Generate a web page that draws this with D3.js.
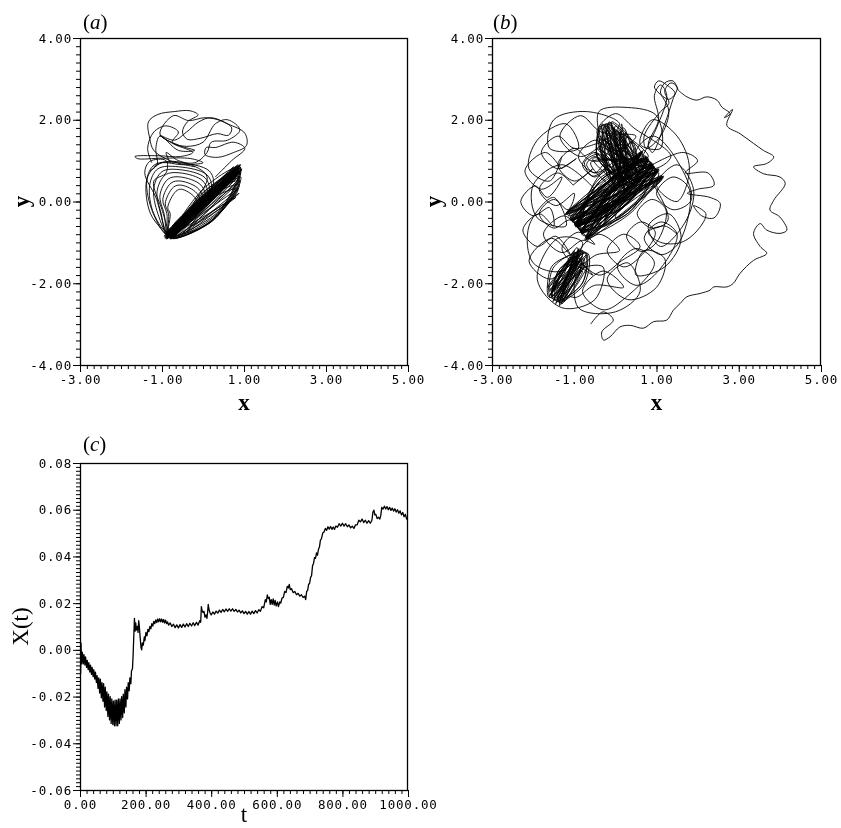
<!DOCTYPE html>
<html><head><meta charset="utf-8">
<script src="https://cdn.jsdelivr.net/npm/d3@7"></script>
<style>body{margin:0;background:#fff}svg{display:block;will-change:transform}</style>
</head><body>
<svg id="chart" width="841" height="828"></svg>
<script>
// ---------- tick labels ----------
const phaseXTicks = [-3, -1, 1, 3, 5];
const phaseXTickLabels = ["-3.00", "-1.00", "1.00", "3.00", "5.00"];
const phaseYTicks = [-4, -2, 0, 2, 4];
const phaseYTickLabels = ["-4.00", "-2.00", "0.00", "2.00", "4.00"];
const timeTicks = [0, 200, 400, 600, 800, 1000];
const timeTickLabels = ["0.00", "200.00", "400.00", "600.00", "800.00", "1000.00"];
const dispTicks = [-0.06, -0.04, -0.02, 0, 0.02, 0.04, 0.06, 0.08];
const dispTickLabels = ["-0.06", "-0.04", "-0.02", "0.00", "0.02", "0.04", "0.06", "0.08"];

// ---------- panel (a): phase trajectory (x, y) ----------
const aTop1 = [[-0.2,0.85],[-0.8,1.0],[-1.2,1.25],[-1.3,1.55],[-1.33,1.95],[-1.1,2.13],[-0.7,2.2],[-0.32,2.22],[-0.12,2.12],[-0.38,1.95],[-0.5,1.7],[-0.38,1.52],[-0.05,1.55],[0.35,1.66],[0.62,1.62],[0.7,1.8],[0.45,1.97],[0.05,2.05],[-0.35,1.98],[-0.72,2.1],[-1.05,1.65],[-0.6,1.38],[-0.2,1.25],[-0.6,1.25],[-1.05,1.6],[-1.15,1.3],[-1.12,0.9],[-1.3,0.75]];
const aTop2 = [[0.3,0.6],[0.7,1.0],[1.02,1.3],[0.75,1.45],[0.3,1.32],[0.08,1.32],[0.05,1.15],[0.35,1.08],[0.75,1.2],[1.06,1.37],[1.02,1.67],[0.6,1.9],[0.2,2.05],[-0.1,1.95],[-0.4,1.7],[-0.7,1.5],[-1.05,1.62],[-0.7,1.4],[-0.25,1.2],[-0.55,1.1],[-1.1,1.12],[-1.66,1.1],[-1.6,1.05],[-1.0,1.06],[-0.3,1.05],[0.0,0.95],[-0.5,0.9],[-1.0,0.95],[-1.2,0.85]];
const aTop3 = [[-1.25,0.95],[-1.35,1.3],[-1.2,1.7],[-0.9,1.85],[-0.6,1.7],[-0.75,1.45],[-0.4,1.35],[0.0,1.45],[0.3,1.9],[0.6,2.0],[0.9,1.75],[0.6,1.5],[0.2,1.45],[0.1,1.2],[-0.2,0.95],[-0.6,1.0],[-0.9,1.2],[-0.8,0.95]];
const aLeaves = [[-0.85,-0.85],[-1.28,-0.3],[-1.38,0.5],[-1.18,0.9],[-0.62,0.95],[0.15,0.75],[0.25,0.4],[-0.3,-0.3],[-0.8,-0.8],
 [-1.2,-0.3],[-1.3,0.4],[-1.1,0.8],[-0.6,0.85],[0.1,0.65],[0.2,0.3],[-0.35,-0.35],[-0.82,-0.82],
 [-1.1,-0.3],[-1.2,0.33],[-1.0,0.73],[-0.58,0.78],[0.05,0.58],[0.15,0.23],[-0.4,-0.4],[-0.86,-0.84],
 [-1.02,-0.3],[-1.12,0.25],[-0.92,0.65],[-0.56,0.7],[0.0,0.5],[0.1,0.15],[-0.45,-0.45],[-0.83,-0.86],
 [-0.95,-0.3],[-1.05,0.15],[-0.85,0.55],[-0.55,0.6],[-0.05,0.4],[0.05,0.05],[-0.5,-0.5],[-0.85,-0.83],
 [-0.88,-0.3],[-0.98,0.05],[-0.78,0.45],[-0.54,0.5],[-0.1,0.3],[0.0,-0.05],[-0.55,-0.55],[-0.84,-0.85],
 [-0.84,-0.3],[-0.92,-0.05],[-0.72,0.35],[-0.53,0.4],[-0.15,0.2],[-0.05,-0.15],[-0.6,-0.6],[-0.86,-0.86],
 [-0.8,-0.3],[-0.86,-0.15],[-0.66,0.25],[-0.53,0.3],[-0.2,0.1],[-0.1,-0.25],[-0.65,-0.65],[-0.85,-0.84],
 [-1.25,-0.2],[-1.35,0.6],[-1.0,0.95],[-0.3,0.9],[0.1,0.6],[-0.2,0.0],[-0.8,-0.85],
 [-1.15,0.1],[-1.42,0.7],[-1.3,0.98],[-0.9,1.0],[-0.9,0.7],[-1.2,0.5],[-1.0,-0.2],[-0.82,-0.8]];
const aBand = [[-0.88,-0.9],[0.9,0.85],[-0.8,-0.82],[0.85,0.72],[-0.9,-0.8],[0.92,0.9],[-0.7,-0.85],[0.8,0.6],[-0.85,-0.7],[0.88,0.8],[-0.6,-0.85],[0.9,0.5],[-0.82,-0.88],[0.7,0.75],[-0.75,-0.6],[0.92,0.7],[-0.5,-0.8],[0.85,0.3],[-0.88,-0.85],[0.6,0.7],[-0.7,-0.55],[0.9,0.6],[-0.4,-0.75],[0.88,0.2],[-0.8,-0.9],[0.75,0.85],[-0.6,-0.5],[0.92,0.78],[-0.3,-0.6],[0.8,0.1],[-0.85,-0.82],[0.9,0.88],[-0.78,-0.75],[0.86,0.66],[-0.9,-0.92],[0.82,0.76]];
const aBand2 = [[-0.9,-0.9],[0.88,0.82],[-0.8,-0.92],[0.93,0.76],[-0.92,-0.8],[0.85,0.9],[-0.85,-0.85],[0.95,0.8],[-0.75,-0.9],[0.88,0.7],[-0.95,-0.85],[0.8,0.85],[-0.88,-0.86],[0.0,0.15],[-0.82,-0.9],[0.9,0.78],[-0.9,-0.82],[0.1,-0.05],[-0.86,-0.88],[0.92,0.84],[-0.78,-0.86],[-0.1,0.05],[-0.93,-0.88],[0.87,0.74],[-0.84,-0.8],[0.9,0.9],[-0.8,-0.88],[0.3,0.3],[-0.9,-0.86],[0.94,0.78],[-0.76,-0.92],[0.84,0.8],[-0.88,-0.78],[0.5,0.35],[-0.92,-0.9],[0.89,0.86],[-0.83,-0.84],[0.91,0.72],[-0.87,-0.91],[0.86,0.88]];
const aHatch = [[-0.8,-0.88],[0.2,-0.5],[0.9,0.5],[0.1,0.15],[-0.75,-0.9],[0.25,-0.45],[0.92,0.6],[0.05,0.2],[-0.7,-0.88],[0.3,-0.38],[0.9,0.7],[0.0,0.22],[-0.72,-0.86],[0.15,-0.52],[0.88,0.4],[0.1,0.1],[-0.78,-0.9],[0.35,-0.3],[0.92,0.8],[0.05,0.25],[-0.68,-0.85],[0.1,-0.55],[0.85,0.3],[0.15,0.05],[-0.8,-0.88],[0.4,-0.22],[0.9,0.85],[0.0,0.3],[-0.74,-0.88],[0.22,-0.48],[0.88,0.55],[0.08,0.18],[-0.76,-0.9]];

// ---------- panel (b): phase trajectory (x, y) ----------
const bCore = [[-0.95,-0.6],[1.15,0.59],[-0.83,-0.76],[0.65,1.21],[-1.08,-0.45],[1.03,0.75],[-0.7,-0.91],[0.78,1.06],[-1.2,-0.29],[0.9,0.9],[-0.86,-0.72],[1.12,0.64],[-0.98,-0.56],[0.8,1.0],[-0.66,-0.88],[0.6,1.15],[-1.05,-0.5],[0.3,0.1],[-1.15,-0.35],[1.05,0.8],[-0.92,-0.64],[0.95,0.85],[-0.74,-0.94],[0.2,0.7],[-0.8,-0.8],[0.74,1.1],[-1.1,-0.4],[1.1,0.55],[-0.6,0.0],[0.68,1.25],[-0.97,-0.62],[1.0,0.72],[-1.18,-0.25],[0.5,0.2],[-0.72,-0.86],[0.88,0.95],[-1.04,-0.47],[0.62,1.18],[-0.85,-0.74],[0.0,0.5],[-0.93,-0.58],[1.17,0.62],[-0.3,-0.6],[0.76,1.04],[-1.22,-0.32],[1.06,0.78],[-0.68,-0.9],[0.92,0.92],[-1.06,-0.43],[0.35,0.05],[-0.82,-0.78],[0.66,1.2],[-0.96,-0.6],[1.13,0.57],[0.0,-0.4],[0.79,1.08],[-1.17,-0.3],[0.9,0.88],[-0.84,-0.75],[1.02,0.77],[-0.71,-0.93],[0.25,0.75],[-1.09,-0.46],[1.14,0.6],[-0.94,-0.61],[0.64,1.22],[-1.19,-0.28],[-0.2,0.3],[-0.81,-0.77],[0.91,0.91],[-0.69,-0.89],[0.77,1.05],[-0.55,0.05],[1.04,0.74],[-1.07,-0.44],[0.55,0.25],[-0.95,-0.59],[0.8,1.03],[-1.21,-0.31],[1.16,0.6],[-0.7,-0.92],[0.63,1.19],[-0.83,-0.75],[1.03,0.76],[-0.96,-0.6],[0.9,0.9]];
const bCoreEll = [[-0.95,-0.6],[0.19,-0.12],[0.9,0.9],[-0.24,0.42],
 [-1.01,-0.52],[0.037,0.072],[0.84,0.98],[-0.335,0.54],
 [-0.89,-0.68],[0.285,-0.24],[0.96,0.82],[-0.087,0.228],
 [-0.98,-0.56],[0.19,-0.12],[0.87,0.94],[-0.366,0.579],
 [-0.92,-0.64],[0.161,-0.084],[0.93,0.86],[-0.087,0.228],
 [-1.04,-0.48],[-0.087,0.228],[0.81,1.02],[-0.335,0.54],
 [-0.86,-0.72],[0.316,-0.279],[0.99,0.78],[0.006,0.111],
 [-0.95,-0.6],[0.068,0.033],[0.9,0.9],[-0.118,0.267],
 [-0.99,-0.54],[0.099,-0.006],[0.86,0.96],[-0.335,0.54],
 [-0.9,-0.66],[0.316,-0.279],[0.95,0.84],[-0.18,0.345],
 [-1.1,-0.42],[0.0,0.0],[0.75,1.1],[-0.4,0.62],
 [-0.8,-0.82],[0.35,-0.3],[1.05,0.7],[0.05,0.2],
 [-1.0,-0.58],[0.12,-0.05],[0.92,0.88],[-0.28,0.48],[-0.95,-0.6]];
const bBridge = [[0.5,0.5],[-0.45,1.3],[0.6,0.7],[-0.3,1.5],[0.3,0.3],[-0.55,1.05],[0.7,0.9],[-0.1,1.6],[0.2,0.2],[-0.6,0.95],[0.8,1.1],[0.0,1.7],[0.4,0.35],[-0.5,1.2],[0.65,0.6],[-0.2,1.45],[0.55,0.45],[-0.4,1.35],[0.75,0.8],[-0.25,1.55]];
const bUpper = [[-0.3,1.8],[0.4,0.5],[-0.1,1.9],[0.2,0.3],[-0.4,1.6],[0.6,0.7],[0.0,1.85],[0.1,0.4],[-0.2,1.75],[0.5,0.6],[0.2,1.8],[-0.1,0.5],[-0.35,1.4],[0.45,0.8],[0.1,1.7],[0.3,0.2],[-0.25,1.85],[0.55,0.9],[0.3,1.6],[0.0,0.6],[-0.4,1.5],[0.7,1.0],[0.4,1.45],[-0.2,0.7],[-0.15,1.95],[0.35,0.45],[-0.05,1.8],[0.65,0.85],[-0.3,1.7],[0.25,0.55],[0.15,1.9],[0.05,0.3],[-0.38,1.55],[0.5,0.75],[0.05,1.75],[0.6,0.5],[-0.2,1.65],[0.15,0.65],[0.25,1.7],[-0.05,0.45],[-0.32,1.9],[0.45,0.4],
 [-0.2,0.9],[-0.5,1.2],[-0.8,0.9],[-0.5,0.6],[-0.2,0.9],[-0.45,1.15],[-0.75,0.95],[-0.55,0.62],[-0.25,0.85],[-0.5,1.1],[-0.7,0.9],[-0.5,0.7],[-0.3,0.9]];
const bUpperEll = [[0.22,0.5],[0.285,1.293],[-0.23,1.9],[-0.285,1.107],
 [0.315,0.531],[0.4275,1.34],[-0.135,1.931],[-0.0475,1.184],
 [0.125,0.469],[0.0475,1.216],[-0.325,1.869],[-0.4275,1.06],
 [0.27,0.515],[0.2375,1.278],[-0.18,1.915],[-0.0475,1.184],
 [0.17,0.485],[0.2375,1.278],[-0.28,1.885],[-0.4275,1.06],
 [0.36,0.55],[0.475,1.355],[-0.09,1.95],[0.095,1.231],
 [0.08,0.45],[-0.14,1.155],[-0.37,1.85],[-0.43,1.06],
 [0.22,0.5],[0.095,1.231],[-0.23,1.9],[-0.095,1.169],[0.2,0.55]];
const bUpRight = [[0.6,1.0],[1.0,1.8],[1.25,2.6],[1.1,2.85],[0.95,2.6],[1.05,2.0],[0.8,1.4],[0.9,1.2],[1.2,1.9],[1.4,2.5],[1.5,2.8],[1.35,2.9],[1.2,2.7],[1.3,2.4],[1.1,2.2],[0.7,1.6],[0.75,1.3],[1.1,1.6],[1.3,2.2],[1.15,2.55],[0.95,2.8],[1.05,2.95],[1.25,2.85],[1.45,2.65],[1.3,2.5],[1.1,2.65],[1.2,2.9],[1.4,2.95],[1.53,2.72]];
const bLowerLeft = [[-0.8,-1.2],[-1.5,-2.4],[-0.9,-1.3],[-1.6,-2.2],[-0.75,-1.4],[-1.35,-2.5],[-1.0,-1.2],[-1.55,-2.3],[-0.7,-1.6],[-1.25,-2.45],[-0.95,-1.35],[-1.65,-2.1],[-0.85,-1.5],[-1.4,-2.4],[-0.7,-1.3],[-1.5,-2.2],[-1.05,-1.4],[-1.3,-2.5],[-0.8,-1.7],[-1.6,-2.35],[-0.9,-1.2],[-1.45,-2.5],[-0.78,-1.25],[-1.58,-2.28],[-0.88,-1.45],[-1.38,-2.45],[-0.72,-1.5],[-1.62,-2.15],[-0.98,-1.28],[-1.42,-2.35],[-0.82,-1.35],[-1.52,-2.45],[-0.76,-1.55],[-1.28,-2.4],[-0.92,-1.25],[-1.55,-2.2],[-0.84,-1.6],[-1.36,-2.55],[-1.02,-1.3],[-1.48,-2.3]];
const bLowerLeftEll = [[-0.8,-1.2],[-0.93,-1.92],[-1.5,-2.4],[-1.37,-1.68],
 [-0.713,-1.249],[-0.802,-1.996],[-1.413,-2.449],[-1.15,-1.8],
 [-0.887,-1.151],[-1.15,-1.8],[-1.587,-2.351],[-1.498,-1.604],
 [-0.757,-1.225],[-0.802,-1.996],[-1.457,-2.425],[-1.324,-1.702],
 [-0.843,-1.176],[-1.107,-1.825],[-1.543,-2.376],[-1.37,-1.677],
 [-0.67,-1.27],[-0.759,-2.02],[-1.37,-2.47],[-1.02,-1.874],
 [-0.93,-1.126],[-1.28,-1.727],[-1.63,-2.326],[-1.54,-1.58],[-0.8,-1.2]];
const bRingA = [[-1.32,0.8],[-1.7,1.2],[-2.2,0.75],[-1.8,0.3],[-1.3,0.6],
 [-1.65,0.1],[-1.95,0.38],[-2.3,0.0],[-2.0,-0.35],[-1.6,-0.15],
 [-1.5,-0.6],[-1.85,-0.3],[-2.25,-0.7],[-1.9,-1.1],[-1.45,-0.85],
 [-1.1,-1.3],[-1.55,-0.9],[-2.1,-1.45],[-1.6,-1.9],[-1.05,-1.55],
 [-0.55,-1.8],[-1.0,-1.45],[-1.45,-1.95],[-1.0,-2.35],[-0.5,-2.05],
 [0.2,-2.1],[-0.3,-1.7],[-0.8,-2.2],[-0.3,-2.65],[0.25,-2.35],
 [0.95,-1.5],[0.5,-1.15],[0.05,-1.6],[0.5,-2.05],[1.0,-1.75],
 [1.5,-0.8],[1.1,-0.5],[0.7,-0.9],[1.1,-1.3],[1.55,-1.0],
 [1.8,0.3],[1.4,0.6],[1.0,0.2],[1.4,-0.2],[1.85,0.05],
 [1.3,1.3],[0.9,1.6],[0.5,1.2],[0.9,0.8],[1.35,1.1],
 [0.45,1.8],[0.0,2.15],[-0.45,1.7],[0.0,1.25],[0.5,1.6],
 [-0.35,1.7],[-0.85,2.1],[-1.35,1.6],[-0.85,1.1],[-0.3,1.45],
 [-1.0,1.3],[-1.4,1.6],[-1.8,1.2],[-1.4,0.8],[-0.95,1.05],[-1.32,0.8]];
const bRingB = [[-1.03,0.4],[-1.4,0.7],[-1.85,0.3],[-1.45,-0.1],[-1.0,0.2],
 [-1.15,-0.2],[-1.5,0.05],[-1.85,-0.3],[-1.5,-0.65],[-1.1,-0.45],
 [-0.85,-0.7],[-1.25,-0.35],[-1.75,-0.8],[-1.3,-1.25],[-0.8,-0.95],
 [-0.5,-1.05],[-0.9,-0.75],[-1.3,-1.15],[-0.9,-1.55],[-0.45,-1.3],
 [0.1,-1.2],[-0.4,-0.8],[-0.9,-1.3],[-0.4,-1.8],[0.15,-1.45],
 [0.6,-1.1],[0.2,-0.8],[-0.2,-1.2],[0.2,-1.6],[0.65,-1.3],
 [0.97,-0.75],[0.62,-0.5],[0.27,-0.85],[0.62,-1.22],[1.0,-1.0],
 [1.23,-0.2],[0.88,0.05],[0.53,-0.3],[0.88,-0.65],[1.28,-0.45],
 [0.45,1.1],[0.1,1.4],[-0.25,1.05],[0.1,0.7],[0.5,0.95],
 [-0.1,1.2],[-0.5,1.5],[-0.9,1.1],[-0.5,0.7],[-0.05,1.0],
 [-0.6,1.0],[-1.0,1.3],[-1.4,0.9],[-1.0,0.5],[-0.55,0.8],[-1.03,0.4]];
const bRingC = [[-0.5,0.3],[-1.3,0.9],[-2.0,0.4],[-1.9,-0.4],[-1.2,-0.6],[-1.5,0.1],[-2.1,-0.6],[-2.0,-1.5],[-1.3,-1.7],[-0.8,-1.0],[-1.4,-0.9],[-1.9,-1.9],[-1.3,-2.6],[-0.5,-2.4],[-0.3,-1.6],[-0.9,-1.7],[-0.9,-2.6],[0.0,-2.7],[0.6,-2.2],[0.3,-1.5],[-0.2,-1.9],[0.3,-2.4],[1.0,-2.1],[1.2,-1.4],[0.7,-1.2],[0.5,-1.8],[1.2,-1.6],[1.6,-0.9],[1.3,-0.3],[0.8,-0.6],[1.1,-1.1],[1.7,-0.5],[1.9,0.3],[1.5,0.9],[1.0,0.4],[1.5,0.0],[1.8,0.8],[1.5,1.6],[0.9,2.0],[0.6,1.4],[1.1,1.3],[1.0,2.1],[0.3,2.3],[-0.4,2.2],[-0.3,1.5],[0.1,1.9],[-0.7,2.2],[-1.5,2.0],[-1.6,1.3],[-0.9,1.3],[-1.2,1.9],[-1.9,1.5],[-2.1,0.8],[-1.6,0.5],[-1.3,1.1]];
const bClover = [[0.9,0.9],[1.65,1.2],[2.0,1.0],[1.7,0.7],[2.25,0.7],[2.4,0.4],[2.0,0.3],[1.75,0.2],[2.3,0.1],[2.55,-0.05],[2.4,-0.4],[2.1,-0.35],[1.9,-0.1],[2.2,-0.3],[2.0,-0.7],[1.6,-1.0],[1.1,-1.0],[0.8,-0.75],[1.2,-0.6],[1.5,-0.8]];
const bOuter = [[1.53,2.72],[1.74,2.56],[1.98,2.48],[2.22,2.56],[2.47,2.48],[2.59,2.31],[2.79,2.15],[2.65,2.05],[2.85,2.25],[2.71,1.86],[3.03,1.66],[3.36,1.42],[3.6,1.25],[3.85,1.09],[3.68,0.93],[3.36,0.85],[3.6,0.68],[4.0,0.6],[4.13,0.44],[3.85,0.03],[3.76,-0.21],[4.0,-0.38],[4.17,-0.7],[4.0,-0.78],[3.68,-0.7],[3.52,-0.54],[3.36,-0.78],[3.52,-1.1],[3.68,-1.27],[3.36,-1.44],[3.03,-1.76],[2.87,-2.0],[2.71,-2.09],[2.39,-2.09],[2.3,-2.17],[2.06,-2.25],[1.74,-2.33],[1.57,-2.5],[1.41,-2.66],[1.25,-2.9],[0.93,-2.94],[0.68,-3.1],[0.36,-3.03],[0.11,-3.07],[-0.13,-3.31],[-0.29,-3.39],[-0.33,-3.19],[-0.05,-2.9],[-0.3,-2.7],[-0.6,-3.0]];

// ---------- panel (c): X(t) time series [t, X] ----------
const seriesC = [[0,-0.018],[1,0.007],[2,-0.010],[3,0.003],[5,-0.006],[7,-0.001],[10,-0.006],[12,-0.002],[15,-0.0065],[17,-0.003],[20,-0.0075],[22,-0.0045],[25,-0.0085],[27,-0.0055],[30,-0.0095],[32,-0.0065],[35,-0.0105],[37,-0.0075],[40,-0.0115],[42,-0.0085],[45,-0.0125],[47,-0.0095],[50,-0.014],[52,-0.011],[55,-0.0165],[57,-0.012],[60,-0.0185],[62,-0.0125],[65,-0.0205],[67,-0.014],[70,-0.022],[72,-0.0145],[75,-0.0245],[77,-0.016],[80,-0.026],[82,-0.018],[85,-0.0285],[87,-0.019],[90,-0.030],[92,-0.020],[95,-0.0315],[97,-0.021],[100,-0.032],[102,-0.022],[105,-0.0325],[107,-0.0215],[110,-0.0325],[112,-0.0215],[115,-0.0325],[117,-0.021],[120,-0.0315],[122,-0.021],[125,-0.030],[127,-0.020],[130,-0.029],[132,-0.019],[135,-0.027],[137,-0.017],[140,-0.0245],[142,-0.016],[145,-0.021],[147,-0.014],[150,-0.0175],[152,-0.012],[155,-0.0145],[157,-0.009],[160,-0.008],[162,-0.002],[164,0.006],[166,0.0135],[168,0.008],[170,0.0115],[172,0.0085],[175,0.010],[177,0.0075],[179,0.0125],[181,0.010],[183,0.006],[186,0.001],[188,0.0],[190,0.003],[193,0.002],[196,0.0055],[198,0.004],[201,0.0075],[204,0.006],[207,0.0088],[210,0.0078],[213,0.010],[216,0.009],[219,0.0112],[222,0.0102],[225,0.0122],[228,0.0112],[231,0.0128],[234,0.0117],[237,0.0132],[240,0.0120],[243,0.0133],[246,0.0120],[249,0.0132],[252,0.0118],[255,0.0130],[258,0.0115],[261,0.0127],[264,0.0112],[267,0.0120],[270,0.0106],[275,0.0115],[280,0.0100],[285,0.0110],[290,0.0095],[295,0.0107],[300,0.0094],[305,0.0108],[310,0.0096],[315,0.0110],[320,0.0098],[325,0.0112],[330,0.0100],[335,0.0114],[340,0.0102],[345,0.0116],[350,0.0104],[355,0.0118],[360,0.0106],[365,0.0125],[368,0.0118],[370,0.0185],[372,0.0170],[375,0.0160],[378,0.0165],[381,0.0140],[384,0.0150],[387,0.0135],[389,0.0160],[391,0.0195],[393,0.0175],[396,0.0160],[400,0.0150],[405,0.0162],[410,0.0153],[415,0.0166],[420,0.0157],[425,0.0170],[430,0.0160],[435,0.0173],[440,0.0163],[445,0.0175],[450,0.0165],[455,0.0176],[460,0.0166],[465,0.0176],[470,0.0165],[475,0.0173],[480,0.0162],[485,0.0170],[490,0.0158],[495,0.0167],[500,0.0155],[505,0.0165],[510,0.0153],[515,0.0164],[520,0.0153],[525,0.0166],[530,0.0155],[535,0.0168],[540,0.0158],[545,0.0172],[550,0.0165],[555,0.0185],[560,0.0180],[565,0.0215],[568,0.0205],[571,0.0235],[574,0.0220],[577,0.0225],[580,0.0195],[583,0.0215],[586,0.0195],[589,0.0218],[592,0.0192],[595,0.0212],[598,0.0188],[602,0.0205],[605,0.0185],[609,0.0205],[612,0.0200],[616,0.0222],[620,0.0225],[624,0.0250],[628,0.0245],[632,0.0272],[635,0.0265],[638,0.0280],[641,0.0258],[645,0.0262],[650,0.0245],[655,0.0250],[660,0.0236],[665,0.0242],[670,0.0230],[675,0.0236],[680,0.0224],[685,0.0230],[688,0.0215],[691,0.0250],[694,0.0255],[697,0.0280],[700,0.0285],[703,0.0310],[706,0.0318],[709,0.0360],[712,0.0370],[715,0.0395],[718,0.0392],[721,0.0415],[724,0.0405],[727,0.0430],[730,0.0440],[733,0.0470],[736,0.0475],[740,0.0500],[744,0.0505],[748,0.0520],[752,0.0512],[756,0.0527],[760,0.0517],[764,0.0528],[768,0.0516],[772,0.0526],[776,0.0516],[780,0.0530],[785,0.0525],[790,0.0540],[795,0.0530],[800,0.0542],[805,0.0530],[810,0.0540],[815,0.0527],[820,0.0535],[825,0.0522],[830,0.0530],[835,0.0520],[840,0.0535],[845,0.0535],[850,0.0555],[855,0.0548],[860,0.0560],[865,0.0545],[870,0.0555],[875,0.0542],[880,0.0553],[885,0.0542],[890,0.0555],[893,0.0590],[896,0.0598],[899,0.0578],[902,0.0580],[906,0.0562],[910,0.0568],[914,0.0560],[917,0.0575],[920,0.0610],[924,0.0603],[928,0.0615],[932,0.0603],[936,0.0613],[940,0.0600],[944,0.0610],[948,0.0597],[952,0.0607],[956,0.0594],[960,0.0604],[964,0.0590],[968,0.0600],[972,0.0585],[976,0.0595],[980,0.0578],[984,0.0588],[988,0.0570],[992,0.0580],[996,0.0560],[1000,0.0570]];

// ---------- drawing ----------
const svg = d3.select("#chart");
const TICK_FONT = "'DejaVu Sans Mono', monospace";
const SERIF = "'Liberation Serif', 'Times New Roman', serif";

function panel(cfg) {
  const g = svg.append("g");
  const x = d3.scaleLinear().domain(cfg.xDomain).range([cfg.left, cfg.right]);
  const y = d3.scaleLinear().domain(cfg.yDomain).range([cfg.bottom, cfg.top]);

  const clipId = "clip-" + cfg.id;
  svg.append("clipPath").attr("id", clipId).append("rect")
    .attr("x", cfg.left).attr("y", cfg.top)
    .attr("width", cfg.right - cfg.left).attr("height", cfg.bottom - cfg.top);

  // minor ticks
  const xMinor = d3.range(cfg.xDomain[0], cfg.xDomain[1] + 1e-9, cfg.xMinorStep);
  const yMinor = d3.range(cfg.yDomain[0], cfg.yDomain[1] + 1e-9, cfg.yMinorStep);
  g.append("g").attr("transform", `translate(0,${cfg.bottom})`)
    .call(d3.axisBottom(x).tickValues(xMinor).tickSize(4).tickFormat(""))
    .call(s => s.select(".domain").remove());
  g.append("g").attr("transform", `translate(${cfg.left},0)`)
    .call(d3.axisLeft(y).tickValues(yMinor).tickSize(4).tickFormat(""))
    .call(s => s.select(".domain").remove());

  // major ticks with labels
  const gx = g.append("g").attr("transform", `translate(0,${cfg.bottom})`)
    .call(d3.axisBottom(x).tickValues(cfg.xTicks).tickSize(7).tickPadding(3)
      .tickFormat((d, i) => cfg.xLabels[i]));
  gx.select(".domain").remove();
  gx.selectAll("text").attr("font-family", TICK_FONT).attr("font-size", 12.5)
    .attr("letter-spacing", "0.8px").attr("fill", "#000");
  const gy = g.append("g").attr("transform", `translate(${cfg.left},0)`)
    .call(d3.axisLeft(y).tickValues(cfg.yTicks).tickSize(7).tickPadding(1)
      .tickFormat((d, i) => cfg.yLabels[i]));
  gy.select(".domain").remove();
  gy.selectAll("text").attr("font-family", TICK_FONT).attr("font-size", 12.5)
    .attr("letter-spacing", "0.8px").attr("fill", "#000");
  g.selectAll(".tick line").attr("stroke", "#000").attr("stroke-width", 1);

  // frame
  g.append("rect").attr("x", cfg.left + 0.5).attr("y", cfg.top + 0.5)
    .attr("width", cfg.right - cfg.left - 1).attr("height", cfg.bottom - cfg.top)
    .attr("fill", "none").attr("stroke", "#000").attr("stroke-width", 1.3);

  // data
  const line = d3.line().x(d => x(d[0])).y(d => y(d[1])).curve(cfg.curve);
  const dg = g.append("g").attr("clip-path", `url(#${clipId})`);
  cfg.paths.forEach(p => {
    dg.append("path").attr("d", line(p)).attr("fill", "none")
      .attr("stroke", "#000").attr("stroke-width", cfg.lw).attr("stroke-linejoin", "round");
  });

  // panel label
  const lab = svg.append("text").attr("x", cfg.labelX).attr("y", cfg.labelY)
    .attr("font-family", SERIF).attr("font-size", 21).attr("fill", "#000");
  lab.append("tspan").text("(");
  lab.append("tspan").attr("font-style", "italic").text(cfg.letter);
  lab.append("tspan").text(")");

  // axis titles
  svg.append("text").attr("x", (cfg.left + cfg.right) / 2).attr("y", cfg.xTitleY)
    .attr("text-anchor", "middle").attr("font-family", SERIF)
    .attr("font-size", cfg.titleSize).attr("font-weight", cfg.titleWeight)
    .attr("fill", "#000").text(cfg.xTitle);
  svg.append("text")
    .attr("transform", `translate(${cfg.yTitleX},${(cfg.top + cfg.bottom) / 2}) rotate(-90)`)
    .attr("text-anchor", "middle").attr("font-family", SERIF)
    .attr("font-size", cfg.titleSize).attr("font-weight", cfg.titleWeight)
    .attr("fill", "#000").text(cfg.yTitle);
}

const phaseCurve = d3.curveCatmullRom.alpha(0.5);

panel({id: "a", left: 80, right: 408, top: 38, bottom: 365,
  xDomain: [-3, 5], yDomain: [-4, 4], xMinorStep: 1/6, yMinorStep: 0.2,
  xTicks: phaseXTicks, xLabels: phaseXTickLabels, yTicks: phaseYTicks, yLabels: phaseYTickLabels,
  paths: [aTop1, aTop2, aTop3, aLeaves, aHatch, aBand, aBand2], curve: phaseCurve, lw: 0.9,
  letter: "a", labelX: 83, labelY: 29, xTitle: "x", yTitle: "y", xTitleY: 410, yTitleX: 29,
  titleSize: 23, titleWeight: "bold"});

panel({id: "b", left: 492, right: 821, top: 38, bottom: 365,
  xDomain: [-3, 5], yDomain: [-4, 4], xMinorStep: 1/6, yMinorStep: 0.2,
  xTicks: phaseXTicks, xLabels: phaseXTickLabels, yTicks: phaseYTicks, yLabels: phaseYTickLabels,
  paths: [bRingA, bRingB, bRingC, bClover, bOuter, bUpRight, bLowerLeft, bLowerLeftEll, bUpper, bUpperEll, bBridge, bCore, bCoreEll], curve: phaseCurve, lw: 0.9,
  letter: "b", labelX: 493, labelY: 29, xTitle: "x", yTitle: "y", xTitleY: 410, yTitleX: 441,
  titleSize: 23, titleWeight: "bold"});

panel({id: "c", left: 80, right: 408, top: 463, bottom: 790,
  xDomain: [0, 1000], yDomain: [-0.06, 0.08], xMinorStep: 20, yMinorStep: 0.02/12,
  xTicks: timeTicks, xLabels: timeTickLabels, yTicks: dispTicks, yLabels: dispTickLabels,
  paths: [seriesC], curve: d3.curveLinear, lw: 1.3,
  letter: "c", labelX: 83, labelY: 451, xTitle: "t", yTitle: "X(t)", xTitleY: 822, yTitleX: 28,
  titleSize: 23, titleWeight: "normal"});
</script>
</body></html>
